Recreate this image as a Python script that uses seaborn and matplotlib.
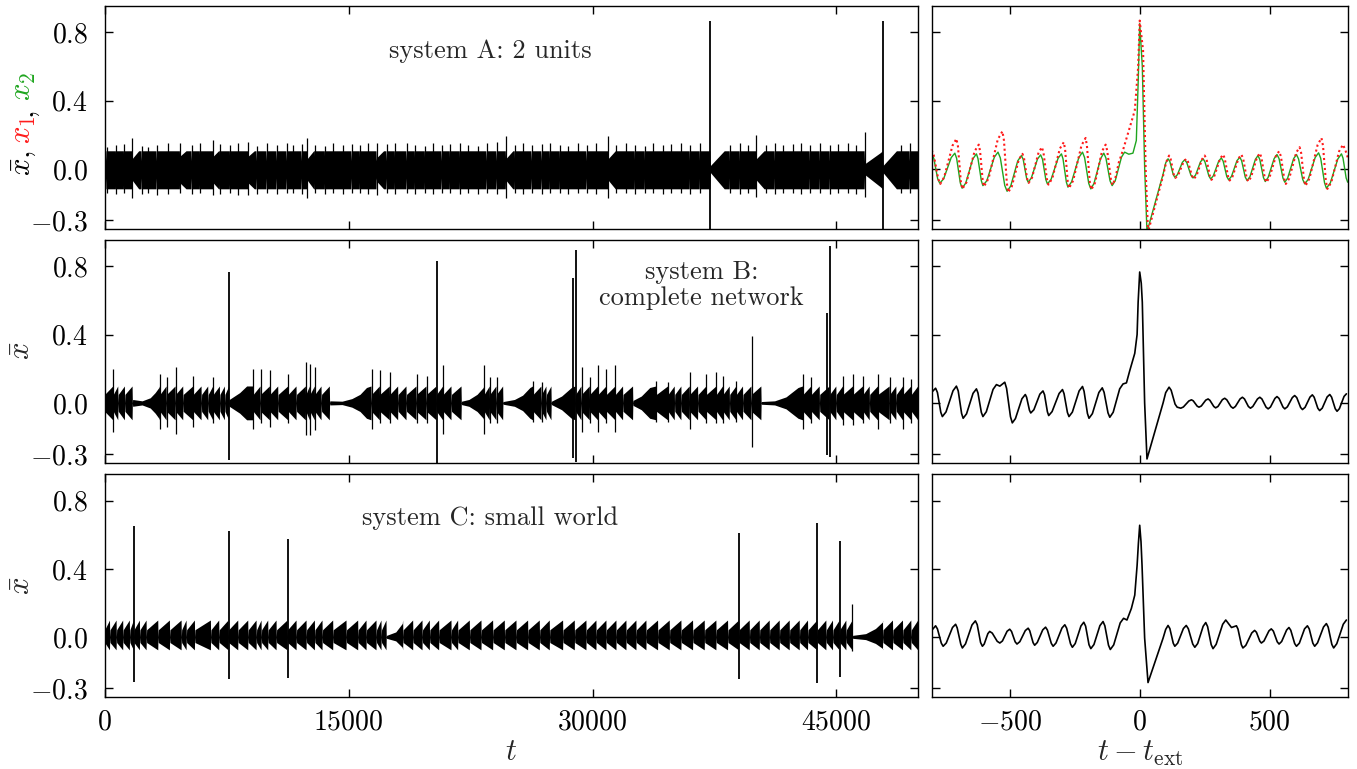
import numpy as np
import matplotlib
matplotlib.use("Agg")
import matplotlib.pyplot as plt
import seaborn as sns

# ---------------------------------------------------------------------------
# Long time series (left column): oscillation envelope described burst by burst.
# Each burst: (start time, starting amplitude); the envelope ramps to full
# amplitude and resets at the next burst.  Extra knots shape slow regrowth.
# ---------------------------------------------------------------------------
T_END = 50000

A_full, A_lo_ratio, A_notch = 0.106, 1.1, 0.45
A_bursts = [(0, 0.106), (121, 0.106), (695, 0.106), (1186, 0.106), (1690, 0.06), (2273, 0.106),
            (2682, 0.106), (3195, 0.106), (3912, 0.106), (4630, 0.075), (5346, 0.106),
            (5859, 0.106), (6680, 0.075), (7088, 0.106), (7703, 0.106), (8215, 0.106), (8830, 0.075),
            (9343, 0.106), (9957, 0.106), (10572, 0.106), (11187, 0.106), (11597, 0.106), (12109, 0.106),
            (12458, 0.06), (12929, 0.106), (13544, 0.106), (14056, 0.106), (14671, 0.106), (15183, 0.106),
            (15695, 0.106), (16208, 0.106), (16720, 0.065), (17335, 0.106), (17847, 0.106), (18565, 0.106),
            (19077, 0.106), (19692, 0.106), (20204, 0.106), (20717, 0.106), (21229, 0.106), (21844, 0.106),
            (22356, 0.106), (22971, 0.106), (23483, 0.106), (24098, 0.106), (24672, 0.06), (25225, 0.106),
            (25737, 0.106), (26250, 0.106), (26865, 0.106), (27377, 0.106), (27992, 0.106), (28504, 0.106),
            (29119, 0.106), (29631, 0.106), (30246, 0.106), (30963, 0.06), (31475, 0.106), (32090, 0.106),
            (32603, 0.106), (33217, 0.106), (33730, 0.106), (34344, 0.106), (34857, 0.106), (35472, 0.106),
            (35984, 0.106), (36599, 0.106), (37255, 0.02), (38443, 0.106), (39058, 0.106), (39570, 0.106),
            (40083, 0.06), (40697, 0.106), (41209, 0.106), (41722, 0.106), (42337, 0.106), (42849, 0.106),
            (43361, 0.106), (43976, 0.106), (44591, 0.106), (45103, 0.106), (45718, 0.106), (46230, 0.106),
            (46743, 0.03), (47870, 0.02), (48997, 0.106), (49509, 0.106)]
A_knots = {1690: [(2090, 0.106)], 4630: [(5000, 0.106)], 6680: [(7000, 0.106)],
           8830: [(9200, 0.106)], 12458: [(12850, 0.106)], 16720: [(17150, 0.106)],
           24672: [(25100, 0.106)], 30963: [(31400, 0.106)], 40083: [(40550, 0.106)],
           37255: [(38100, 0.106)], 46743: [(47700, 0.095)], 47870: [(48690, 0.106)]}
A_spikes = [(121, 0.13, -0.14), (695, 0.14, -0.145), (1186, 0.144, -0.14), (1690, 0.18, -0.17),
            (2273, 0.136, -0.145), (2682, 0.13, -0.14), (3195, 0.14, -0.15), (3912, 0.15, -0.145),
            (4630, 0.15, -0.14), (5346, 0.14, -0.145), (5859, 0.15, -0.14),
            (6680, 0.17, -0.155), (7088, 0.144, -0.145), (7703, 0.14, -0.14), (8215, 0.15, -0.15),
            (8830, 0.16, -0.15), (9343, 0.136, -0.145), (9957, 0.15, -0.14), (10572, 0.14, -0.145),
            (11187, 0.15, -0.14), (11597, 0.14, -0.14), (12109, 0.144, -0.145), (12458, 0.18, -0.17),
            (12929, 0.14, -0.14), (13544, 0.136, -0.145), (14056, 0.15, -0.14), (14671, 0.14, -0.145),
            (15183, 0.144, -0.14), (15695, 0.14, -0.14), (16208, 0.15, -0.145), (16720, 0.15, -0.155),
            (17335, 0.144, -0.14), (17847, 0.15, -0.145), (18565, 0.15, -0.14), (19077, 0.14, -0.145),
            (19692, 0.136, -0.14), (20204, 0.15, -0.145), (20717, 0.14, -0.14), (21229, 0.144, -0.14),
            (21844, 0.15, -0.145), (22356, 0.14, -0.14), (22971, 0.136, -0.145), (23483, 0.15, -0.14),
            (24098, 0.16, -0.145), (24672, 0.19, -0.17), (25225, 0.14, -0.14), (25737, 0.15, -0.145),
            (26250, 0.14, -0.14), (26865, 0.144, -0.145), (27377, 0.15, -0.14), (27992, 0.14, -0.14),
            (28504, 0.136, -0.145), (29119, 0.15, -0.14), (29631, 0.14, -0.14), (30246, 0.15, -0.145),
            (30963, 0.19, -0.17), (31475, 0.14, -0.14), (32090, 0.15, -0.14), (32603, 0.14, -0.145),
            (33217, 0.136, -0.14), (33730, 0.15, -0.14), (34344, 0.14, -0.145), (34857, 0.144, -0.14),
            (35472, 0.15, -0.14), (35984, 0.14, -0.145), (36599, 0.15, -0.14), (38443, 0.14, -0.14),
            (39058, 0.15, -0.145), (39570, 0.14, -0.14), (40083, 0.20, -0.165), (40697, 0.14, -0.14),
            (41209, 0.15, -0.145), (41722, 0.14, -0.14), (42337, 0.144, -0.14), (42849, 0.15, -0.145),
            (43361, 0.14, -0.14), (43976, 0.15, -0.14), (44591, 0.14, -0.145), (45103, 0.144, -0.14),
            (45718, 0.15, -0.14), (46230, 0.14, -0.145), (46743, 0.215, -0.165), (48997, 0.14, -0.14),
            (49509, 0.15, -0.14)]
A_events = [(37255, 0.864, -0.35), (47870, 0.864, -0.35)]

B_full, B_lo_ratio, B_notch = 0.099, 1.0, 0.0
B_bursts = [(0, 0.05), (531, 0.05), (838, 0.05), (1248, 0.05), (1720, 0.02), (3400, 0.05), (3810, 0.05),
            (4363, 0.05), (4834, 0.05), (5449, 0.05), (5961, 0.05), (6371, 0.05), (6679, 0.05),
            (7089, 0.05), (7396, 0.05), (7660, 0.02), (9138, 0.05), (9589, 0.05), (10163, 0.05),
            (10676, 0.05), (11290, 0.05), (11802, 0.05), (12376, 0.05), (12622, 0.05), (12929, 0.05),
            (13339, 0.05), (13850, 0.012), (16413, 0.05), (16926, 0.05), (17540, 0.05), (18052, 0.05),
            (18565, 0.05), (19180, 0.05), (19795, 0.05), (20410, 0.05), (20819, 0.05), (21331, 0.05),
            (21950, 0.01), (23340, 0.05), (23688, 0.05), (24098, 0.05), (24510, 0.008), (26352, 0.05),
            (26865, 0.05), (27172, 0.05), (27480, 0.01), (28960, 0.05), (29324, 0.05), (29837, 0.05),
            (30348, 0.05), (30861, 0.05), (31414, 0.05), (31885, 0.05), (32500, 0.015), (33935, 0.05),
            (34652, 0.05), (35062, 0.05), (35472, 0.05), (35985, 0.05), (36497, 0.05), (37009, 0.05),
            (37624, 0.05), (38033, 0.05), (38443, 0.05), (38853, 0.05), (39263, 0.05), (39779, 0.05),
            (40390, 0.008), (42952, 0.05), (43464, 0.05), (43977, 0.05), (44590, 0.05), (45001, 0.05),
            (45411, 0.05), (46026, 0.05), (46641, 0.05), (47051, 0.05), (47563, 0.05), (48281, 0.05),
            (48690, 0.05), (49100, 0.05), (49614, 0.05)]
B_knots = {1720: [(2300, 0.012), (2800, 0.03), (3100, 0.06), (3330, 0.09)],
           7660: [(8300, 0.06), (8730, 0.099)],
           13850: [(14600, 0.01), (15200, 0.025), (15700, 0.05), (16100, 0.09)],
           21950: [(22400, 0.02), (22900, 0.05), (23280, 0.09)],
           24510: [(25200, 0.02), (25700, 0.045), (26150, 0.09)],
           27480: [(28100, 0.04), (28700, 0.09)],
           32500: [(33000, 0.04), (33520, 0.09)],
           40390: [(41200, 0.012), (41900, 0.035), (42640, 0.09)]}
B_spikes = [(531, 0.20, -0.17), (3400, 0.17, -0.15), (3810, 0.15, -0.14), (4363, 0.21, -0.18),
            (5449, 0.16, -0.14), (6679, 0.15, -0.12), (9138, 0.20, -0.15), (9589, 0.20, -0.12),
            (10163, 0.19, -0.14), (11290, 0.17, -0.12), (12376, 0.24, -0.19), (12622, 0.23, -0.19),
            (12929, 0.21, -0.16), (16413, 0.20, -0.15), (16926, 0.19, -0.12), (17540, 0.18, -0.12),
            (19180, 0.17, -0.12), (19795, 0.16, -0.12), (20819, 0.22, -0.18), (23340, 0.22, -0.18),
            (23688, 0.15, -0.12), (24098, 0.15, -0.12), (26352, 0.13, -0.11), (26865, 0.12, -0.11),
            (29324, 0.21, -0.17), (29837, 0.15, -0.12), (30348, 0.22, -0.17), (30861, 0.20, -0.12),
            (31414, 0.22, -0.17), (33935, 0.13, -0.11), (34652, 0.12, -0.11), (35985, 0.18, -0.15),
            (37009, 0.17, -0.12), (37624, 0.18, -0.12), (38033, 0.16, -0.12), (38853, 0.13, -0.11),
            (39779, 0.39, -0.26), (42952, 0.17, -0.15), (43464, 0.15, -0.12), (45411, 0.16, -0.13),
            (46026, 0.17, -0.13), (46641, 0.16, -0.12), (47563, 0.17, -0.15), (48281, 0.15, -0.12),
            (49100, 0.15, -0.15), (49614, 0.14, -0.12)]
B_events = [(7660, 0.765, -0.335), (20410, 0.828, -0.349), (28810, 0.73, -0.325),
            (28960, 0.897, -0.345), (44450, 0.528, -0.306), (44590, 0.917, -0.316)]

C_full, C_lo_ratio, C_notch = 0.10, 0.75, 0.0
C_bursts = [(0, 0.043), (330, 0.043), (736, 0.043), (1141, 0.043), (1551, 0.043), (1801, 0.043),
            (2170, 0.043), (2580, 0.043), (3298, 0.043), (4015, 0.043), (4733, 0.043), (5040, 0.043),
            (5552, 0.043), (6536, 0.043), (7047, 0.043), (7621, 0.043), (8217, 0.043), (8832, 0.043),
            (9344, 0.043), (9651, 0.043), (10061, 0.043), (10573, 0.043), (11248, 0.043), (11803, 0.043),
            (12418, 0.043), (12931, 0.043), (13400, 0.043), (14056, 0.043), (14876, 0.043), (15593, 0.043),
            (16106, 0.043), (16720, 0.043), (17027, 0.043), (17335, 0.01), (18360, 0.043), (18975, 0.043),
            (19549, 0.043), (20000, 0.043), (20573, 0.043), (21331, 0.043), (21741, 0.043), (22459, 0.043),
            (23176, 0.043), (23893, 0.043), (24610, 0.043), (25328, 0.043), (26045, 0.043), (26762, 0.043),
            (27377, 0.043), (28197, 0.043), (28914, 0.043), (29631, 0.043), (30246, 0.043), (30861, 0.043),
            (31476, 0.043), (32090, 0.043), (32705, 0.043), (33320, 0.043), (34037, 0.043), (34754, 0.043),
            (35472, 0.043), (36189, 0.043), (36906, 0.043), (37623, 0.043), (38341, 0.043), (39017, 0.043),
            (39673, 0.043), (40288, 0.043), (40902, 0.043), (41517, 0.043), (42132, 0.043), (42747, 0.043),
            (43259, 0.043), (43833, 0.043), (44386, 0.043), (44796, 0.043), (45206, 0.043), (45616, 0.043),
            (46000, 0.01), (47870, 0.043), (48485, 0.043), (49100, 0.043), (49612, 0.043)]
C_knots = {17335: [(17900, 0.03), (18300, 0.08)],
           46000: [(46800, 0.02), (47400, 0.05), (47850, 0.09)]}
C_spikes = [(45985, 0.193, -0.08)]
C_events = [(1801, 0.651, -0.261), (7621, 0.622, -0.247), (11248, 0.578, -0.238),
            (39017, 0.613, -0.247), (43833, 0.671, -0.267), (45206, 0.562, -0.232)]

# ---------------------------------------------------------------------------
# Extreme-event averages (right column): (t - t_ext, value)
# ---------------------------------------------------------------------------
A2_curve = [(-800, 0.088), (-792, 0.062), (-777, -0.058), (-769, -0.084), (-754, -0.058), (-725, 0.066),
            (-711, 0.092), (-704, 0.061), (-690, -0.082), (-683, -0.113), (-669, -0.083), (-642, 0.058),
            (-628, 0.088), (-622, 0.060), (-609, -0.070), (-603, -0.098), (-588, -0.069), (-559, 0.069),
            (-545, 0.098), (-536, 0.064), (-519, -0.097), (-510, -0.131), (-496, -0.100), (-469, 0.047),
            (-455, 0.078), (-448, 0.055), (-435, -0.055), (-429, -0.078), (-417, -0.054), (-393, 0.058),
            (-381, 0.082), (-374, 0.057), (-361, -0.063), (-355, -0.088), (-341, -0.062), (-314, 0.062),
            (-301, 0.088), (-295, 0.059), (-282, -0.078), (-276, -0.107), (-262, -0.076), (-234, 0.067),
            (-220, 0.098), (-212, 0.066), (-196, -0.085), (-188, -0.117), (-176, -0.086), (-150, 0.061),
            (-138, 0.092), (-130, 0.064), (-114, -0.070), (-106, -0.098), (-94, -0.069), (-70, 0.069),
            (-58, 0.098), (-42, 0.086), (-26, 0.092), (-13, 0.166), (-6, 0.5), (0, 0.85), (10, 0.6),
            (19, 0.01), (28, -0.37), (90, -0.03), (100, 0.035), (109, 0.059), (116, 0.043), (129, -0.033),
            (135, -0.049), (145, -0.034), (164, 0.038), (173, 0.053), (181, 0.037), (197, -0.037),
            (205, -0.053), (215, -0.036), (234, 0.042), (244, 0.059), (251, 0.041), (266, -0.041),
            (273, -0.059), (283, -0.041), (304, 0.046), (314, 0.064), (321, 0.045), (335, -0.045),
            (342, -0.064), (353, -0.044), (374, 0.048), (385, 0.068), (392, 0.048), (406, -0.048),
            (413, -0.068), (424, -0.046), (445, 0.056), (455, 0.078), (462, 0.055), (476, -0.051),
            (483, -0.074), (494, -0.050), (517, 0.060), (528, 0.084), (536, 0.060), (551, -0.054),
            (558, -0.078), (569, -0.054), (592, 0.060), (603, 0.084), (611, 0.058), (627, -0.062),
            (635, -0.088), (648, -0.061), (675, 0.067), (688, 0.094), (696, 0.063), (711, -0.082),
            (718, -0.113), (733, -0.083), (762, 0.058), (776, 0.088), (782, 0.063), (794, -0.053),
            (800, -0.078)]
A1_curve = [(-800, 0.11), (-792, 0.080), (-775, -0.058), (-767, -0.088), (-752, -0.048), (-720, 0.136),
            (-705, 0.176), (-699, 0.132), (-688, -0.073), (-682, -0.117), (-666, -0.078), (-635, 0.103),
            (-619, 0.142), (-614, 0.105), (-604, -0.066), (-599, -0.103), (-581, -0.055), (-546, 0.172),
            (-528, 0.22), (-522, 0.166), (-511, -0.083), (-506, -0.137), (-492, -0.103), (-465, 0.054),
            (-451, 0.088), (-445, 0.063), (-433, -0.057), (-427, -0.082), (-414, -0.051), (-389, 0.096),
            (-376, 0.127), (-370, 0.094), (-357, -0.059), (-351, -0.092), (-336, -0.055), (-307, 0.119),
            (-292, 0.156), (-287, 0.116), (-277, -0.073), (-272, -0.113), (-256, -0.069), (-224, 0.137),
            (-208, 0.181), (-203, 0.136), (-192, -0.076), (-186, -0.121), (-172, -0.082), (-145, 0.103),
            (-131, 0.142), (-125, 0.107), (-111, -0.059), (-105, -0.094), (-95, -0.063), (-80, 0.04),
            (-64, 0.111), (-38, 0.244), (-19, 0.341), (-6, 0.595), (0, 0.868), (13, 0.693), (23, 0.0),
            (32, -0.37), (90, -0.04), (102, 0.04), (113, 0.078), (119, 0.058), (131, -0.033),
            (137, -0.053), (148, -0.036), (169, 0.042), (179, 0.059), (186, 0.041), (201, -0.041),
            (208, -0.059), (219, -0.038), (240, 0.057), (250, 0.078), (257, 0.057), (270, -0.043),
            (276, -0.064), (287, -0.042), (310, 0.062), (321, 0.084), (327, 0.061), (340, -0.045),
            (346, -0.068), (357, -0.045), (380, 0.061), (391, 0.084), (398, 0.060), (411, -0.050),
            (417, -0.074), (428, -0.049), (451, 0.067), (462, 0.092), (468, 0.067), (481, -0.053),
            (487, -0.078), (499, -0.051), (524, 0.076), (536, 0.103), (543, 0.074), (556, -0.059),
            (562, -0.088), (575, -0.056), (602, 0.095), (615, 0.127), (621, 0.093), (632, -0.064),
            (638, -0.098), (653, -0.056), (684, 0.139), (699, 0.181), (705, 0.136), (716, -0.072),
            (722, -0.117), (737, -0.078), (767, 0.103), (782, 0.142), (791, 0.11), (800, 0.068)]
B_curve = [(-800, 0.062), (-785, 0.086), (-778, 0.061), (-765, -0.055), (-759, -0.080), (-745, -0.053),
           (-718, 0.071), (-705, 0.098), (-698, 0.070), (-685, -0.062), (-679, -0.090), (-666, -0.064),
           (-641, 0.056), (-628, 0.082), (-622, 0.058), (-609, -0.056), (-603, -0.080), (-590, -0.052),
           (-564, 0.079), (-551, 0.107), (-538, 0.098), (-519, 0.121), (-512, 0.085), (-497, -0.081),
           (-490, -0.117), (-478, -0.092), (-453, 0.024), (-440, 0.049), (-435, 0.033), (-424, -0.043),
           (-419, -0.059), (-407, -0.040), (-384, 0.051), (-372, 0.070), (-366, 0.048), (-355, -0.052),
           (-350, -0.074), (-337, -0.051), (-310, 0.055), (-297, 0.078), (-291, 0.054), (-278, -0.056),
           (-272, -0.080), (-259, -0.054), (-233, 0.070), (-220, 0.096), (-214, 0.068), (-201, -0.062),
           (-195, -0.090), (-182, -0.063), (-157, 0.061), (-144, 0.088), (-137, 0.062), (-122, -0.058),
           (-115, -0.084), (-102, -0.055), (-77, 0.082), (-64, 0.111), (-51, 0.117), (-38, 0.19),
           (-19, 0.29), (-10, 0.40), (-6, 0.59), (0, 0.766), (6, 0.70), (10, 0.59), (19, 0.0),
           (28, -0.328), (90, 0.0), (100, 0.06), (113, 0.092), (121, 0.074), (136, -0.007), (144, -0.025),
           (158, -0.031), (168, -0.024), (189, 0.011), (199, 0.018), (206, 0.012), (221, -0.019),
           (228, -0.025), (237, -0.018), (254, 0.016), (263, 0.023), (270, 0.015), (285, -0.021),
           (292, -0.029), (301, -0.021), (318, 0.019), (327, 0.027), (335, 0.018), (351, -0.022),
           (359, -0.031), (368, -0.021), (386, 0.023), (395, 0.033), (403, 0.023), (418, -0.021),
           (426, -0.031), (435, -0.021), (453, 0.023), (462, 0.033), (470, 0.023), (486, -0.025),
           (494, -0.035), (503, -0.024), (520, 0.026), (528, 0.037), (536, 0.026), (551, -0.024),
           (558, -0.035), (568, -0.023), (587, 0.031), (596, 0.043), (604, 0.031), (619, -0.027),
           (626, -0.039), (636, -0.026), (655, 0.034), (664, 0.047), (671, 0.033), (685, -0.031),
           (692, -0.045), (702, -0.031), (721, 0.035), (731, 0.049), (738, 0.034), (752, -0.034),
           (759, -0.049), (768, -0.034), (786, 0.038), (795, 0.053)]
C_curve = [(-800, 0.039), (-785, 0.066), (-778, 0.048), (-763, -0.036), (-756, -0.054), (-744, -0.035),
           (-720, 0.056), (-708, 0.075), (-702, 0.054), (-688, -0.043), (-682, -0.064), (-670, -0.040),
           (-645, 0.071), (-632, 0.095), (-625, 0.073), (-612, -0.032), (-605, -0.054), (-598, -0.041),
           (-584, 0.020), (-577, 0.033), (-567, 0.023), (-548, -0.025), (-538, -0.035), (-528, -0.023),
           (-510, 0.034), (-500, 0.046), (-493, 0.033), (-479, -0.028), (-472, -0.041), (-461, -0.027),
           (-440, 0.038), (-429, 0.052), (-423, 0.037), (-410, -0.033), (-404, -0.048), (-394, -0.032),
           (-373, 0.042), (-362, 0.058), (-355, 0.041), (-340, -0.037), (-333, -0.054), (-322, -0.035),
           (-299, 0.053), (-288, 0.072), (-281, 0.052), (-266, -0.040), (-259, -0.060), (-248, -0.038),
           (-226, 0.065), (-215, 0.087), (-208, 0.064), (-195, -0.045), (-188, -0.068), (-176, -0.044),
           (-153, 0.067), (-141, 0.091), (-134, 0.066), (-120, -0.048), (-113, -0.073), (-100, -0.046),
           (-75, 0.083), (-62, 0.110), (-49, 0.10), (-32, 0.168), (-19, 0.246), (-10, 0.42), (-5, 0.55),
           (0, 0.656), (5, 0.56), (9, 0.42), (19, -0.006), (32, -0.267), (90, -0.006), (100, 0.045),
           (109, 0.068), (116, 0.050), (129, -0.036), (135, -0.054), (146, -0.036), (168, 0.050),
           (179, 0.068), (187, 0.049), (204, -0.041), (212, -0.060), (223, -0.038), (244, 0.063),
           (254, 0.085), (261, 0.062), (275, -0.045), (282, -0.068), (294, -0.043), (319, 0.075),
           (331, 0.10), (353, 0.056), (372, 0.066), (378, 0.047), (391, -0.045), (397, -0.064),
           (408, -0.049), (431, 0.024), (442, 0.039), (449, 0.028), (462, -0.024), (468, -0.035),
           (478, -0.023), (497, 0.036), (506, 0.048), (514, 0.035), (529, -0.028), (536, -0.041),
           (546, -0.026), (565, 0.041), (574, 0.056), (581, 0.040), (596, -0.038), (603, -0.054),
           (614, -0.036), (634, 0.048), (645, 0.066), (652, 0.048), (666, -0.036), (673, -0.054),
           (684, -0.034), (707, 0.059), (718, 0.079), (725, 0.058), (739, -0.043), (746, -0.064),
           (758, -0.039), (783, 0.075), (795, 0.10)]

labels = ["system A: 2 units", "system B:\ncomplete network", "system C: small world"]
label_pos = [(23700, 0.69), (36700, 0.69), (23700, 0.70)]

T_TICKS = [0, 15000, 30000, 45000]
EXT_TICKS = [-500, 0, 500]
X_TICKS = [-0.3, 0.0, 0.4, 0.8]

RED = "#ff1a1a"
GREEN = "#1fa51f"
GAP = 36.0

# ---------------------------------------------------------------------------
sns.set_style("ticks")
plt.rcParams.update({
    "font.family": "serif",
    "font.serif": ["cmr10"],
    "mathtext.fontset": "cm",
    "axes.formatter.use_mathtext": True,
    "axes.unicode_minus": True,
    "axes.linewidth": 1.0,
    "axes.edgecolor": "black",
    "xtick.direction": "in", "ytick.direction": "in",
    "xtick.top": True, "ytick.right": True,
    "xtick.major.size": 5.5, "ytick.major.size": 5.5,
    "xtick.major.width": 1.0, "ytick.major.width": 1.0,
    "xtick.color": "black", "ytick.color": "black",
    "xtick.labelsize": 20, "ytick.labelsize": 20,
    "xtick.major.pad": 9, "ytick.major.pad": 12,
})


def envelope(bursts, knots, full, notch):
    ts, amps = [], []
    for i, (t0, a0) in enumerate(bursts):
        ts.append(t0)
        amps.append(a0)
        for kt, ka in knots.get(t0, []):
            ts.append(kt)
            amps.append(ka)
        if i + 1 < len(bursts):
            t1 = bursts[i + 1][0]
            ts += [t1 - GAP, t1 - GAP / 2]
            amps += [full, notch * full]
        else:
            ts.append(T_END)
            amps.append(full)
    return np.array(ts, float), np.array(amps, float)


def draw_long(ax, bursts, knots, full, lo_ratio, notch, spikes, events):
    t, a = envelope(bursts, knots, full, notch)
    ax.fill_between(t, -a * lo_ratio, a, color="black", lw=0.0)
    if spikes:
        st, sh, sl = zip(*spikes)
        ax.vlines(st, sl, sh, color="black", lw=0.9)
    et, eh, el = zip(*events)
    ax.vlines(et, el, eh, color="black", lw=1.3)


def draw_curve(ax, pts, **kw):
    t, v = zip(*pts)
    sns.lineplot(x=list(t), y=list(v), ax=ax, sort=False, **kw)


W, H = 1357, 769
fig = plt.figure(figsize=(W / 100, H / 100), dpi=100)

rows = [(5.7, 228.7), (239.7, 462.7), (474.3, 696.7)]
left_x, right_x = (104.7, 917.7), (931.7, 1347.7)


def add_ax(xr, yr):
    return fig.add_axes([xr[0] / W, 1 - yr[1] / H, (xr[1] - xr[0]) / W, (yr[1] - yr[0]) / H])


long_data = [(A_bursts, A_knots, A_full, A_lo_ratio, A_notch, A_spikes, A_events),
             (B_bursts, B_knots, B_full, B_lo_ratio, B_notch, B_spikes, B_events),
             (C_bursts, C_knots, C_full, C_lo_ratio, C_notch, C_spikes, C_events)]

left_axes, right_axes = [], []
for r, yr in enumerate(rows):
    axl = add_ax(left_x, yr)
    axr = add_ax(right_x, yr)
    left_axes.append(axl)
    right_axes.append(axr)
    draw_long(axl, *long_data[r])
    axl.text(label_pos[r][0], label_pos[r][1], labels[r], ha="center", va="center",
             fontsize=19, linespacing=1.1)

# event-aligned averages
draw_curve(right_axes[0], A2_curve, color=GREEN, lw=1.0)
draw_curve(right_axes[0], A1_curve, color=RED, lw=1.5, linestyle=(0, (1, 1.4)))
draw_curve(right_axes[1], B_curve, color="black", lw=1.2)
draw_curve(right_axes[2], C_curve, color="black", lw=1.2)

for r in range(3):
    axl, axr = left_axes[r], right_axes[r]
    axl.set_xlim(0, T_END)
    axr.set_xlim(-800, 800)
    for ax in (axl, axr):
        ax.set_ylim(-0.35, 0.955)
        ax.set_yticks(X_TICKS)
        ax.set_xlabel("")
        ax.set_ylabel("")
        ax.tick_params(which="both", top=True, right=True, direction="in")
        for s in ax.spines.values():
            s.set_visible(True)
            s.set_color("black")
            s.set_linewidth(1.0)
    axl.set_xticks(T_TICKS)
    axr.set_xticks(EXT_TICKS)
    axr.tick_params(labelleft=False)
    if r < 2:
        axl.tick_params(labelbottom=False)
        axr.tick_params(labelbottom=False)

left_axes[2].set_xlabel("$t$", fontsize=22, labelpad=2)
right_axes[2].set_xlabel(r"$t - t_{\rm ext}$", fontsize=22, labelpad=2)
for ax in left_axes[1:]:
    ax.set_ylabel(r"$\bar{x}$", fontsize=22)
    ax.yaxis.set_label_coords(-0.085, 0.5)

# multicoloured label of the top row
fig.canvas.draw()
renderer = fig.canvas.get_renderer()
y = (H - 176) / H
xb = 31 / W
for s, c, gap in [(r"$\bar{x}$,", "black", 6), (r"$x_1$", RED, 0), (",", "black", 6), (r"$x_2$", GREEN, 0)]:
    txt = fig.text(xb, y, s, rotation=90, rotation_mode="anchor", ha="left", va="baseline",
                   color=c, fontsize=22)
    bb = txt.get_window_extent(renderer)
    y += (bb.height + gap) / H

fig.savefig("out.png", dpi=100)
